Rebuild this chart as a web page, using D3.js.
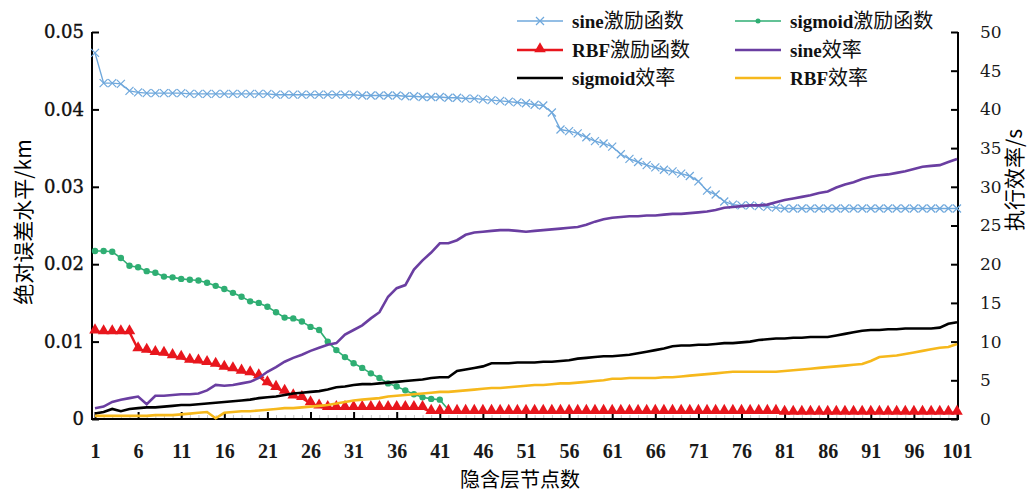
<!DOCTYPE html>
<html>
<head>
<meta charset="utf-8">
<style>
body { margin: 0; background: #fff; }
svg { display: block; }
</style>
<script src="https://cdn.jsdelivr.net/npm/d3@7"></script>
</head>
<body>
<div id="chart"></div>
<script>
// hidden layer node counts 1..101
var nodes = d3.range(1, 102);
var xTicks = [1, 6, 11, 16, 21, 26, 31, 36, 41, 46, 51, 56, 61, 66, 71, 76, 81, 86, 91, 96, 101];
var leftTicks = [0, 0.01, 0.02, 0.03, 0.04, 0.05];
var rightTicks = [0, 5, 10, 15, 20, 25, 30, 35, 40, 45, 50];

// absolute error (left axis, km)
var sineErr = [
  .0473, .0434, .0434, .0433, .0424, .0422, .0421, .0421, .0421, .0421,
  .0421, .0420, .0420, .0420, .0420, .0420, .0420, .0420, .0420, .0420,
  .0420, .0419, .0419, .0419, .0419, .0419, .0419, .0419, .0419, .0419,
  .0419, .0418, .0418, .0418, .0418, .0418, .0417, .0417, .0416, .0416,
  .0416, .0415, .0415, .0414, .0414, .0413, .0412, .0411, .0410, .0409,
  .0408, .0406, .0405, .0396, .0374, .0372, .0369, .0364, .0359, .0356,
  .0352, .0342, .0336, .0332, .0328, .0325, .0322, .0320, .0317, .0314,
  .0307, .0295, .0290, .0281, .0277, .0276, .0276, .0275, .0274, .0273,
  .0272, .0272, .0272, .0272, .0272, .0272, .0272, .0272, .0272, .0272,
  .0272, .0272, .0272, .0272, .0272, .0272, .0272, .0272, .0272, .0272,
  .0272
];
var sigmoidErr = [
  .0217, .0217, .0216, .0208, .0198, .0196, .0191, .0189, .0184, .0183,
  .0181, .0180, .0179, .0176, .0172, .0168, .0163, .0158, .0152, .0150,
  .0145, .0138, .0131, .0130, .0126, .0119, .0115, .0100, .0089, .0080,
  .0072, .0066, .0059, .0053, .0046, .0042, .0037, .0032, .0028, .0026,
  .0025, .0012
];
var rbfErr = [
  .0113, .0112, .0112, .0112, .0112, .0090, .0088, .0085, .0084, .0081,
  .0079, .0075, .0074, .0072, .0070, .0066, .0064, .0061, .0059, .0055,
  .0046, .0040, .0035, .0029, .0027, .0020, .0016, .0014, .0014, .0014,
  .0014, .0014, .0014, .0014, .0014, .0014, .0014, .0014, .0014, .0009,
  .0009, .0009, .0009, .0009, .0009, .0009, .0009, .0009, .0009, .0009,
  .0009, .0009, .0009, .0009, .0009, .0009, .0009, .0009, .0009, .0009,
  .0009, .0009, .0009, .0009, .0009, .0009, .0009, .0009, .0009, .0009,
  .0009, .0009, .0009, .0009, .0009, .0009, .0009, .0009, .0009, .0009,
  .0008, .0008, .0008, .0008, .0008, .0008, .0008, .0008, .0008, .0008,
  .0008, .0008, .0008, .0008, .0008, .0008, .0008, .0008, .0008, .0008,
  .0008
];

// execution time (right axis, s)
var sineEff = [
  1.4, 1.6, 2.2, 2.5, 2.7, 2.9, 1.9, 3.0, 3.0, 3.1,
  3.2, 3.2, 3.3, 3.7, 4.4, 4.3, 4.4, 4.6, 4.8, 5.3,
  6.1, 6.7, 7.4, 7.9, 8.3, 8.8, 9.2, 9.6, 9.8, 10.9,
  11.5, 12.1, 13.0, 13.8, 15.8, 16.9, 17.3, 19.3, 20.5, 21.5,
  22.7, 22.7, 23.1, 23.8, 24.1, 24.2, 24.3, 24.4, 24.4, 24.3,
  24.2, 24.3, 24.4, 24.5, 24.6, 24.7, 24.8, 25.1, 25.5, 25.8,
  26.0, 26.1, 26.2, 26.2, 26.3, 26.3, 26.4, 26.5, 26.5, 26.6,
  26.7, 26.8, 27.0, 27.3, 27.4, 27.5, 27.6, 27.6, 27.7, 28.0,
  28.3, 28.5, 28.7, 28.9, 29.2, 29.4, 29.9, 30.3, 30.6, 31.0,
  31.3, 31.5, 31.6, 31.8, 32.0, 32.3, 32.6, 32.7, 32.8, 33.2,
  33.6
];
var sigmoidEff = [
  0.7, 0.9, 1.3, 1.0, 1.3, 1.4, 1.5, 1.5, 1.6, 1.7,
  1.8, 1.8, 1.9, 2.0, 2.1, 2.2, 2.3, 2.4, 2.5, 2.7,
  2.8, 2.9, 3.1, 3.3, 3.4, 3.5, 3.6, 3.8, 4.1, 4.2,
  4.4, 4.5, 4.5, 4.6, 4.7, 4.8, 4.9, 5.0, 5.1, 5.3,
  5.4, 5.4, 6.2, 6.4, 6.6, 6.8, 7.2, 7.2, 7.2, 7.3,
  7.3, 7.3, 7.4, 7.4, 7.5, 7.6, 7.8, 7.9, 8.0, 8.1,
  8.1, 8.2, 8.3, 8.5, 8.7, 8.9, 9.1, 9.4, 9.5, 9.5,
  9.6, 9.6, 9.7, 9.8, 9.8, 9.9, 10.0, 10.2, 10.3, 10.4,
  10.4, 10.5, 10.5, 10.6, 10.6, 10.6, 10.8, 11.0, 11.2, 11.4,
  11.5, 11.5, 11.6, 11.6, 11.7, 11.7, 11.7, 11.7, 11.8, 12.3,
  12.5
];
var rbfEff = [
  0.4, 0.4, 0.4, 0.4, 0.4, 0.4, 0.4, 0.5, 0.5, 0.5,
  0.6, 0.7, 0.8, 0.9, 0.1, 0.8, 0.9, 1.0, 1.0, 1.1,
  1.2, 1.3, 1.4, 1.4, 1.5, 1.6, 1.7, 1.8, 2.0, 2.2,
  2.4, 2.5, 2.6, 2.7, 2.9, 3.0, 3.1, 3.2, 3.3, 3.4,
  3.5, 3.5, 3.6, 3.7, 3.8, 3.9, 4.0, 4.0, 4.1, 4.2,
  4.3, 4.4, 4.4, 4.5, 4.6, 4.6, 4.7, 4.8, 4.9, 5.0,
  5.2, 5.2, 5.3, 5.3, 5.3, 5.3, 5.4, 5.4, 5.5, 5.6,
  5.7, 5.8, 5.9, 6.0, 6.1, 6.1, 6.1, 6.1, 6.1, 6.1,
  6.2, 6.3, 6.4, 6.5, 6.6, 6.7, 6.8, 6.9, 7.0, 7.1,
  7.5, 8.0, 8.1, 8.2, 8.4, 8.6, 8.8, 9.0, 9.2, 9.3,
  9.7
];

var width = 1030, height = 494;
var svg = d3.select("#chart").append("svg").attr("width", width).attr("height", height);

var x = d3.scaleLinear().domain([1, 101]).range([95, 957]);
var yL = d3.scaleLinear().domain([0, 0.05]).range([419, 32]);
var yR = d3.scaleLinear().domain([0, 50]).range([419, 32]);

var colSine = "#6fa8dc", colSig = "#2fae73", colRbf = "#e8161d";
var colSineE = "#6a3ea1", colSigE = "#000000", colRbfE = "#f6b81c";
var serifNum = "'DejaVu Serif', 'Liberation Serif', serif";
var serifX = "'Liberation Serif', serif";
var cjkFont = "'Noto Sans CJK SC', sans-serif";

// minor ticks on x axis
svg.append("g").attr("transform", "translate(0,419)")
  .call(d3.axisBottom(x).tickValues(nodes).tickSize(-4).tickFormat(""))
  .call(g => g.select(".domain").remove())
  .call(g => g.selectAll("line").attr("stroke", "#c8c8c8").attr("stroke-width", 1));

// major x axis
var xAxis = svg.append("g").attr("transform", "translate(0,419)")
  .call(d3.axisBottom(x).tickValues(xTicks).tickSize(-7).tickPadding(25).tickSizeOuter(0));
xAxis.select(".domain").remove();
xAxis.selectAll("line").attr("stroke", "#000").attr("stroke-width", 2);
xAxis.selectAll("text").style("font-family", serifX).style("font-size", "20px")
  .style("font-weight", "bold").attr("fill", "#1a1a1a");

var yAxisL = svg.append("g").attr("transform", "translate(92,0)")
  .call(d3.axisLeft(yL).tickValues(leftTicks).tickSize(-7).tickPadding(8).tickSizeOuter(0)
    .tickFormat(d => d === 0 ? "0" : d.toFixed(2)));
yAxisL.select(".domain").remove();
yAxisL.selectAll("line").attr("stroke", "#000").attr("stroke-width", 2);
yAxisL.selectAll("text").style("font-family", serifNum).style("font-size", "18px")
  .attr("fill", "#111").attr("stroke", "#111").attr("stroke-width", 0.4);

var yAxisR = svg.append("g").attr("transform", "translate(958,0)")
  .call(d3.axisRight(yR).tickValues(rightTicks).tickSize(-7).tickPadding(22).tickSizeOuter(0));
yAxisR.select(".domain").remove();
yAxisR.selectAll("line").attr("stroke", "#000").attr("stroke-width", 2);
yAxisR.selectAll("text").style("font-family", serifNum).style("font-size", "17px")
  .attr("fill", "#1a1a1a");

// frame: left, bottom, right
svg.append("path")
  .attr("d", "M92," + yL(0.05) + "V419H958V" + yR(50))
  .attr("fill", "none").attr("stroke", "#000").attr("stroke-width", 2);

// axis titles
svg.append("text").style("font-family", cjkFont).style("font-size", "21px")
  .attr("text-anchor", "middle")
  .attr("transform", "translate(31,222) rotate(-90)")
  .text("绝对误差水平/km");
svg.append("text").style("font-family", cjkFont).style("font-size", "21px")
  .attr("text-anchor", "middle")
  .attr("transform", "translate(1022,180) rotate(-90)")
  .text("执行效率/s");
svg.append("text").style("font-family", cjkFont).style("font-size", "20px")
  .attr("text-anchor", "middle")
  .attr("x", 520).attr("y", 487)
  .text("隐含层节点数");

function lineL(arr) {
  return d3.line().x((d, i) => x(i + 1)).y(d => yL(d))(arr);
}
function lineR(arr) {
  return d3.line().x((d, i) => x(i + 1)).y(d => yR(d))(arr);
}

var crossPath = "M-4,-4L4,4M4,-4L-4,4";
var tri = d3.symbol().type(d3.symbolTriangle).size(58)();

// sine error
svg.append("path").attr("d", lineL(sineErr)).attr("fill", "none")
  .attr("stroke", colSine).attr("stroke-width", 1.4);
svg.append("g").selectAll("path").data(sineErr).join("path")
  .attr("transform", (d, i) => "translate(" + x(i + 1) + "," + yL(d) + ")")
  .attr("d", crossPath).attr("fill", "none").attr("stroke", colSine).attr("stroke-width", 1.2);

// sigmoid error
svg.append("path").attr("d", lineL(sigmoidErr)).attr("fill", "none")
  .attr("stroke", colSig).attr("stroke-width", 1.6);
svg.append("g").selectAll("circle").data(sigmoidErr.slice(0, 41)).join("circle")
  .attr("cx", (d, i) => x(i + 1)).attr("cy", d => yL(d)).attr("r", 3.2)
  .attr("fill", colSig);

// RBF error
svg.append("path").attr("d", lineL(rbfErr)).attr("fill", "none")
  .attr("stroke", colRbf).attr("stroke-width", 2.4);
svg.append("g").selectAll("path").data(rbfErr).join("path")
  .attr("transform", (d, i) => "translate(" + x(i + 1) + "," + (yL(d) - 1.5) + ")")
  .attr("d", tri).attr("fill", colRbf);

// efficiency lines
svg.append("path").attr("d", lineR(sineEff)).attr("fill", "none")
  .attr("stroke", colSineE).attr("stroke-width", 2.6);
svg.append("path").attr("d", lineR(sigmoidEff)).attr("fill", "none")
  .attr("stroke", colSigE).attr("stroke-width", 2.6);
svg.append("path").attr("d", lineR(rbfEff)).attr("fill", "none")
  .attr("stroke", colRbfE).attr("stroke-width", 2.6);

// legend
var legend = [
  { lat: "sine", cjk: "激励函数", color: colSine, mark: "cross", w: 1.4, col: 0, row: 0 },
  { lat: "sigmoid", cjk: "激励函数", color: colSig, mark: "dot", w: 1.6, col: 1, row: 0 },
  { lat: "RBF", cjk: "激励函数", color: colRbf, mark: "tri", w: 2.4, col: 0, row: 1 },
  { lat: "sine", cjk: "效率", color: colSineE, mark: null, w: 2.6, col: 1, row: 1 },
  { lat: "sigmoid", cjk: "效率", color: colSigE, mark: null, w: 2.6, col: 0, row: 2 },
  { lat: "RBF", cjk: "效率", color: colRbfE, mark: null, w: 2.6, col: 1, row: 2 }
];
var colX = [517, 735], rowY = [21, 50, 78];
var lg = svg.append("g").selectAll("g").data(legend).join("g")
  .attr("transform", d => "translate(" + colX[d.col] + "," + rowY[d.row] + ")");
lg.append("line").attr("x1", 0).attr("x2", 46).attr("y1", 0).attr("y2", 0)
  .attr("stroke", d => d.color).attr("stroke-width", d => d.w);
lg.filter(d => d.mark === "cross").append("path").attr("d", crossPath)
  .attr("transform", "translate(23,0)").attr("fill", "none")
  .attr("stroke", colSine).attr("stroke-width", 1.2);
lg.filter(d => d.mark === "dot").append("circle").attr("cx", 23).attr("r", 2.5).attr("fill", colSig);
lg.filter(d => d.mark === "tri").append("path").attr("d", tri)
  .attr("transform", "translate(23,-1)").attr("fill", colRbf);
var lt = lg.append("text").attr("x", 55).attr("y", 7).attr("fill", "#111");
lt.append("tspan").style("font-family", serifX).style("font-weight", "bold")
  .style("font-size", "19px").text(d => d.lat);
lt.append("tspan").style("font-family", cjkFont).style("font-size", "20px").text(d => d.cjk);
</script>
</body>
</html>
